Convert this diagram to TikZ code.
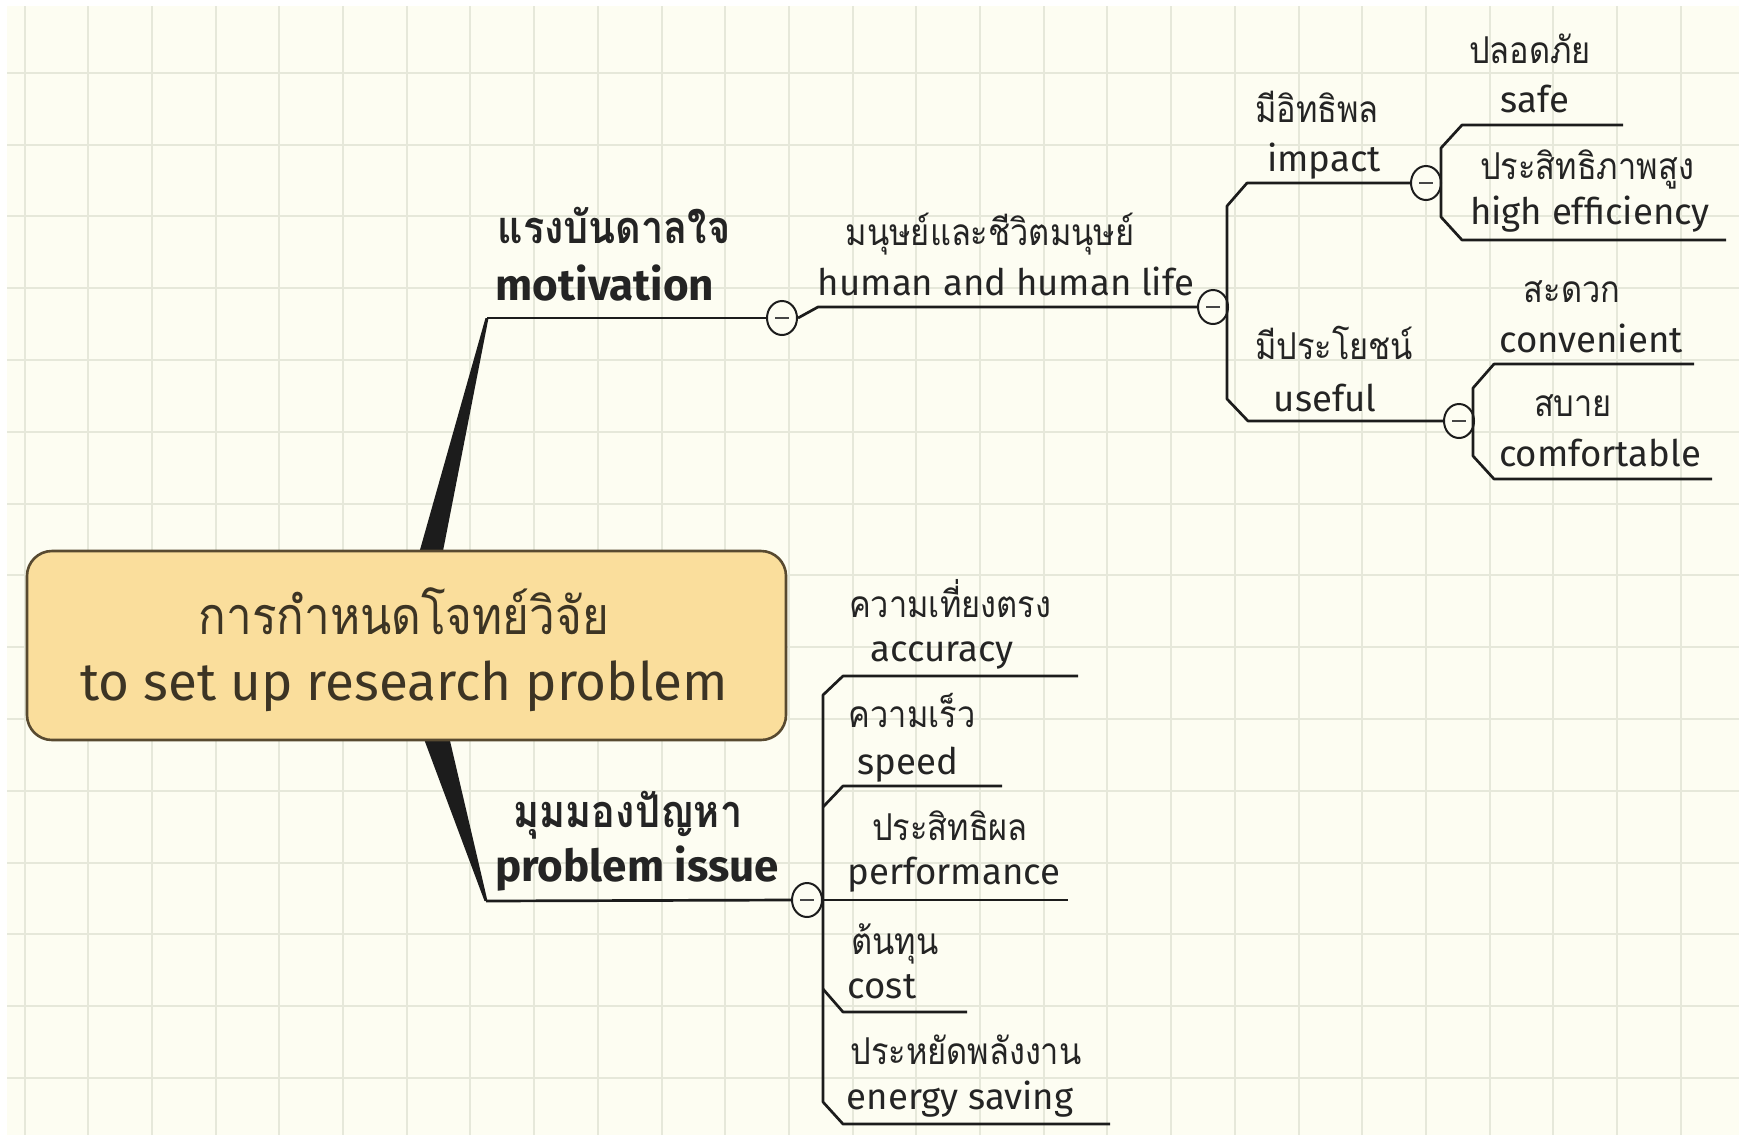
\documentclass[tikz,border=0pt]{standalone}
\usepackage{fontspec}
\setmainfont{Fira Sans}
\newfontfamily\thaifont[Script=Thai,FakeStretch=0.88]{Loma}
\usetikzlibrary{shapes.geometric,calc,backgrounds}
\definecolor{paper}{RGB}{253,253,242}
\definecolor{gridc}{RGB}{230,232,218}
\definecolor{boxfill}{RGB}{250,222,156}
\definecolor{boxline}{RGB}{88,74,48}
\definecolor{linec}{RGB}{28,28,28}
\definecolor{inkc}{RGB}{36,36,36}
\definecolor{rootink}{RGB}{60,52,36}
\begin{document}
\begin{tikzpicture}[x=0.5pt,y=-0.5pt,
    link/.style={draw=linec,line width=1.35pt,line join=round},
    wedge/.style={fill=linec},
    rootbox/.style={draw=boxline,line width=1.3pt,fill=boxfill,rounded corners=12.5pt,
        minimum width=379.5pt,minimum height=94.5pt,inner sep=0pt},
    toggle/.style={ellipse,draw=linec,line width=1pt,fill=paper,
        minimum width=15pt,minimum height=17pt,inner sep=0pt,
        path picture={\draw[line width=1.3pt,gray!55!black]
            ([xshift=-3.5pt]path picture bounding box.center) -- ([xshift=3.5pt]path picture bounding box.center);}},
    th/.style={anchor=base,inner sep=0pt,text=inkc,font=\thaifont\fontsize{18.5}{22}\selectfont},
    en/.style={anchor=base,inner sep=0pt,text=inkc,font=\fontsize{18.3}{22}\selectfont},
    thbig/.style={th,font=\thaifont\bfseries\fontsize{22.5}{26}\selectfont},
    enbig/.style={en,font=\bfseries\fontsize{22}{26}\selectfont},
    rootth/.style={anchor=base,inner sep=0pt,text=rootink,font=\thaifont\fontsize{26}{30}\selectfont},
    rooten/.style={anchor=base,inner sep=0pt,text=rootink,font=\fontsize{26.5}{32}\selectfont}]
\useasboundingbox (0,0) rectangle (1739,1135);

% central topic
\node[rootbox] (root) at (406.5,645.5) {};
\node[rootth] (root-th) at (404,634) {การกำหนดโจทย์วิจัย};
\node[rooten] (root-en) at (404,700) {to set up research problem};

% first level
\coordinate (mot-a) at (487,318);
\coordinate (prob-a) at (486,901);
\node[thbig] (mot-th) at (614,243) {แรงบันดาลใจ};
\node[enbig] (mot-en) at (605,300) {motivation};
\node[thbig] (prob-th) at (628,827) {มุมมองปัญหา};
\node[enbig] (prob-en) at (637,881) {problem issue};

% collapse buttons
\node[toggle] (t-mot) at (782,318) {};
\node[toggle] (t-hum) at (1213,307) {};
\node[toggle] (t-imp) at (1426,183) {};
\node[toggle] (t-use) at (1459,421) {};
\node[toggle] (t-prob) at (807,900) {};

% free ends of the underlines
\coordinate (safe-e) at (1623,125);
\coordinate (heff-e) at (1726,240);
\coordinate (conv-e) at (1694,364);
\coordinate (comf-e) at (1712,479);
\coordinate (acc-e) at (1078,676);
\coordinate (speed-e) at (1002,786);
\coordinate (perf-e) at (1068,900);
\coordinate (cost-e) at (967,1012);
\coordinate (energy-e) at (1110,1124);

\begin{scope}[on background layer]
    \fill[white] (0,0) rectangle (1739,1135);
    \fill[paper] (7,6) rectangle (1739,1135);
    \foreach \k in {0,...,26}
        \draw[gridc,line width=1pt] ({24.5+63.7*\k},6) -- ({24.5+63.7*\k},1135);
    \foreach \k in {0,...,14}
        \draw[gridc,line width=1pt] (7,{72.7+71.8*\k}) -- (1739,{72.7+71.8*\k});
    \fill[wedge] ($(root.north)+(11,9)$) -- ($(mot-a)+(-1.5,0)$) -- ($(mot-a)+(1.5,0)$) -- ($(root.north)+(35,9)$) -- cycle;
    \fill[wedge] ($(root.south)+(15,-9)$) -- ($(prob-a)+(-1.5,0)$) -- ($(prob-a)+(1.5,0)$) -- ($(root.south)+(41.5,-9)$) -- cycle;
\end{scope}

% branches
\draw[link] (mot-a) -- (t-mot.west);
\draw[link] (t-mot.east) -- (818,307) -- (t-hum.west);
\draw[link] (t-imp.west) -- (1247,183) -- (1227,206) -- (1227,399) -- (1248,421) -- (t-use.west);
\draw[link] (safe-e) -- (1462,125) -- (1441,148) -- (1441,217) -- (1462,240) -- (heff-e);
\draw[link] (conv-e) -- (1494,364) -- (1473,388) -- (1473,456) -- (1494,479) -- (comf-e);
\draw[link] (prob-a) -- (t-prob.west);
\draw[link] (acc-e) -- (843,676) -- (823,695) -- (823,1102) -- (843,1124) -- (energy-e);
\draw[link] (823,807) -- (843,786) -- (speed-e);
\draw[link] (823,989) -- (843,1012) -- (cost-e);
\draw[link] (t-prob.east) -- (perf-e);

% labels: name / thai x / thai base / thai / english x / english base / english
\foreach \n/\tx/\ty/\t/\ex/\ey/\e in {
    hum/990/245/มนุษย์และชีวิตมนุษย์/1006/295/human and human life,
    imp/1317/122/มีอิทธิพล/1324/171/impact,
    use/1334/359/มีประโยชน์/1325/411/useful,
    safe/1530/63/ปลอดภัย/1535/112/safe,
    heff/1587/179/ประสิทธิภาพสูง/1590/224/high efficiency,
    conv/1572/302/สะดวก/1591/352/convenient,
    comf/1573/416/สบาย/1600/466/comfortable,
    acc/950/617/ความเที่ยงตรง/942/661/accuracy,
    speed/912/727/ความเร็ว/908/774/speed,
    perf/950/840/ประสิทธิผล/954/884/performance,
    cost/895/954/ต้นทุน/882/998/cost,
    energy/966/1064/ประหยัดพลังงาน/960/1109/energy saving}
{
    \node[th] (\n-th) at (\tx,\ty) {\t};
    \node[en] (\n-en) at (\ex,\ey) {\e};
}
\end{tikzpicture}
\end{document}
